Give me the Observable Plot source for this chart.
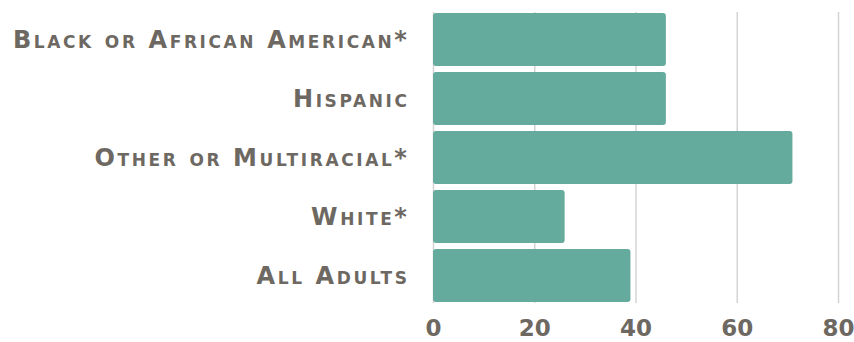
<!DOCTYPE html>
<html>
<head>
<meta charset="utf-8">
<script src="https://cdn.jsdelivr.net/npm/d3@7"></script>
<script src="https://cdn.jsdelivr.net/npm/@observablehq/plot@0.6"></script>
<style>
  html, body { margin: 0; padding: 0; background: #fff; }
  #chart svg { display: block; }
  #chart svg g[aria-label="y-axis tick label"] text { letter-spacing: 2.6px; }
</style>
</head>
<body>
<div id="chart"></div>
<script>
const categories = ["Black or African American*", "Hispanic", "Other or Multiracial*", "White*", "All Adults"];
const values = [46, 46, 71, 26, 39];
const xTicks = [0, 20, 40, 60, 80];

const data = categories.map((c, i) => ({category: c, value: values[i]}));
const textColor = "#6d6861";

const chart = Plot.plot({
  width: 854,
  height: 342,
  marginLeft: 433,
  marginRight: 16,
  marginTop: 12,
  marginBottom: 39,
  style: {
    fontFamily: "'DejaVu Sans', sans-serif",
    fontWeight: "bold",
    fontVariant: "small-caps",
    color: textColor,
    background: "#fff"
  },
  x: {domain: [0, 80], ticks: xTicks, label: null},
  y: {domain: categories, paddingInner: 0.1, paddingOuter: 0, label: null},
  marks: [
    Plot.gridX(xTicks, {stroke: "#d4d4d4", strokeOpacity: 1, strokeWidth: 1.5}),
    Plot.barX(data, {x: "value", y: "category", fill: "#65ab9d", rx: 3}),
    Plot.axisX(xTicks, {tickSize: 0, tickPadding: 16, fontSize: 23, fill: textColor, label: null}),
    Plot.axisY({tickSize: 0, tickPadding: 24, fontSize: 24, fill: textColor, label: null})
  ]
});
document.getElementById("chart").appendChild(chart);
</script>
</body>
</html>
